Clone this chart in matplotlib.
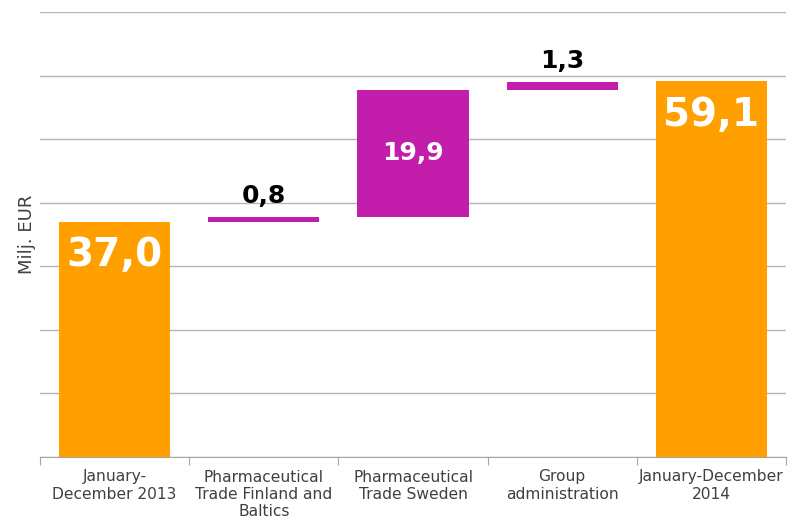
import matplotlib
matplotlib.use("Agg")
from matplotlib import pyplot as plt

categories = ["January-\nDecember 2013", "Pharmaceutical\nTrade Finland and\nBaltics",
              "Pharmaceutical\nTrade Sweden", "Group\nadministration", "January-December\n2014"]
changes = [37.0, 0.8, 19.9, 1.3, 59.1]
labels = ["37,0", "0,8", "19,9", "1,3", "59,1"]
is_total = [True, False, False, False, True]

orange = "#FFA000"
magenta = "#C21EAB"

fig = plt.figure(figsize=(7.88, 5.21), dpi=100)
ax = fig.add_axes([40/788, 64/521, 746/788, 445/521])

# waterfall bases
bottoms = []
run = 0.0
for v, tot in zip(changes, is_total):
    if tot:
        bottoms.append(0.0)
        run = v
    else:
        bottoms.append(run)
        run += v

x = range(len(categories))
colors = [orange if t else magenta for t in is_total]
ax.bar(x, changes, bottom=bottoms, width=0.745, color=colors, zorder=3)

for i, (v, b, t, lab) in enumerate(zip(changes, bottoms, is_total, labels)):
    top = b + v
    if t:
        ax.annotate(lab, (i, top), xytext=(0, -24), textcoords="offset points",
                    ha="center", va="center", color="white", fontsize=28,
                    fontweight="bold", zorder=4)
    elif v > 5:
        ax.text(i, b + v/2, lab, ha="center", va="center", color="white",
                fontsize=18, fontweight="bold", zorder=4)
    else:
        ax.annotate(lab, (i, top), xytext=(0, 15), textcoords="offset points",
                    ha="center", va="center", color="black", fontsize=18,
                    fontweight="bold", zorder=4)

ax.set_ylim(0, 70)
ax.set_xlim(-0.5, len(categories) - 0.5)
ax.set_yticks(range(0, 71, 10))
ax.tick_params(axis="y", left=False, labelleft=False)
ax.yaxis.grid(True, color="#b4b4b4", lw=1.0, zorder=0)
ax.set_xticks([i - 0.5 for i in range(len(categories) + 1)], minor=False)
ax.set_xticklabels([])
ax.set_xticks(list(x), minor=True)
ax.set_xticklabels(categories, minor=True, fontsize=11.2, color="#404040",
                   linespacing=1.2)
ax.tick_params(axis="x", which="major", length=6, color="#a6a6a6")
ax.tick_params(axis="x", which="minor", length=0, pad=9)
for s in ["top", "right", "left"]:
    ax.spines[s].set_visible(False)
ax.spines["bottom"].set_color("#a6a6a6")
ax.set_ylabel("Milj. EUR", fontsize=13, color="#404040", labelpad=3)

fig.savefig("out.png", dpi=100)
